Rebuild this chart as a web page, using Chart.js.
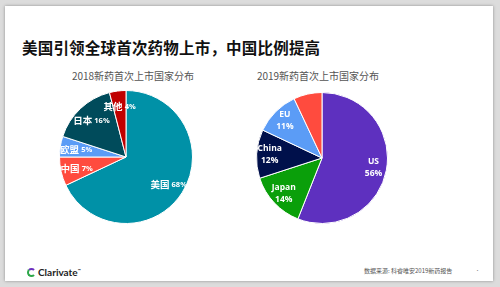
<!DOCTYPE html>
<html>
<head>
<meta charset="utf-8">
<script src="https://cdn.jsdelivr.net/npm/chart.js@4.4.0/dist/chart.umd.min.js"></script>
<style>
  html, body { margin: 0; padding: 0; }
  body { width: 500px; height: 287px; background: #dcdcdc; position: relative; overflow: hidden; font-family: "Noto Sans CJK SC", "Noto Sans", sans-serif; }
  #slide { position: absolute; left: 5px; top: 6px; width: 488px; height: 275px; background: #fff; box-shadow: 0 0 3px rgba(0,0,0,0.35); }
  .abs { position: absolute; }
  #main-title { left: 22px; top: 36px; font-size: 15.5px; font-weight: 700; color: #111; letter-spacing: 0.2px; white-space: nowrap; font-family: "Noto Sans CJK SC", serif; }
  .sub { font-size: 10px; color: #555; white-space: nowrap; transform: translateX(-50%); }
  #src { left: 364px; top: 266px; font-size: 6px; color: #555; white-space: nowrap; }
  #dot { left: 475px; top: 266px; font-size: 5px; color: #888; }
  #logo { left: 27px; top: 266px; font-family: "Lato", "Open Sans", sans-serif; font-weight: 700; font-size: 10px; color: #222; white-space: nowrap; }
  #logo i { display: inline-block; width: 5px; height: 5px; border: 2px solid #6b2fbf; border-left-color: #2ea84a; border-bottom-color: #2ea84a; border-right-color: transparent; border-radius: 50%; vertical-align: -1px; margin-right: 2px; }
</style>
</head>
<body>
<div id="slide"></div>
<div id="main-title" class="abs">美国引领全球首次药物上市，中国比例提高</div>
<div class="abs sub" style="left:133px; top:68px;">2018新药首次上市国家分布</div>
<div class="abs sub" style="left:318px; top:68px;">2019新药首次上市国家分布</div>
<div class="abs" style="left:59px; top:90px; width:134px; height:134px;"><canvas id="pie2018"></canvas></div>
<div class="abs" style="left:256px; top:92px; width:132px; height:132px;"><canvas id="pie2019"></canvas></div>
<div id="logo" class="abs"><i></i>Clarivate<sup style="font-size:4px">™</sup></div>
<div id="src" class="abs">数据来源: 科睿唯安2019新药报告</div>
<div id="dot" class="abs">•</div>

<script>
// 2018 - 顺时针从12点开始
const labels2018 = ['美国', '中国', '欧盟', '日本', '其他'];
const values2018 = [68, 7, 5, 16, 4];
const colors2018 = ['#0091a7', '#ff4b3e', '#5b9cf6', '#004b5b', '#c00000'];

// 2019
const labels2019 = ['US', 'Japan', 'China', 'EU', ''];
const values2019 = [56, 14, 12, 11, 7];
const colors2019 = ['#5e30bf', '#0a9f0a', '#00104b', '#5b9cf6', '#ff4b3e'];

// etiquetas dentro de cada porción
const sliceLabels = {
    id: 'sliceLabels',
    afterDatasetsDraw(chart, args, opts) {
        const { ctx } = chart;
        const meta = chart.getDatasetMeta(0);
        const ds = chart.data.datasets[0];
        ctx.save();
        ctx.fillStyle = '#fff';
        ctx.textBaseline = 'middle';
        meta.data.forEach((arc, i) => {
            const name = chart.data.labels[i];
            if (!name) return;
            const mid = (arc.startAngle + arc.endAngle) / 2;
            const r = arc.outerRadius * opts.factor;
            const x = arc.x + Math.cos(mid) * r;
            const y = arc.y + Math.sin(mid) * r;
            const pct = ds.data[i] + '%';
            if (opts.twoLines) {
                ctx.textAlign = 'center';
                ctx.font = 'bold 8.5px "Open Sans", sans-serif';
                ctx.fillText(name, x, y - 6);
                ctx.fillText(pct, x, y + 6);
            } else {
                ctx.font = 'bold 9.5px "Noto Sans CJK SC", sans-serif';
                const w1 = ctx.measureText(name + ' ').width;
                ctx.font = 'bold 7.5px "Open Sans", sans-serif';
                const w2 = ctx.measureText(pct).width;
                const x0 = x - (w1 + w2) / 2;
                ctx.textAlign = 'left';
                ctx.font = 'bold 9.5px "Noto Sans CJK SC", sans-serif';
                ctx.fillText(name, x0, y);
                ctx.font = 'bold 7.5px "Open Sans", sans-serif';
                ctx.fillText(pct, x0 + w1, y + 0.5);
            }
        });
        ctx.restore();
    }
};

function makePie(id, labels, values, colors, twoLines, factor) {
    return new Chart(document.getElementById(id), {
        type: 'pie',
        data: {
            labels: labels,
            datasets: [{
                data: values,
                backgroundColor: colors,
                borderColor: '#ffffff',
                borderWidth: 1
            }]
        },
        options: {
            responsive: true,
            maintainAspectRatio: false,
            animation: false,
            layout: { padding: 0 },
            plugins: {
                legend: { display: false },
                tooltip: { enabled: false },
                sliceLabels: { twoLines: twoLines, factor: factor }
            }
        },
        plugins: [sliceLabels]
    });
}

makePie('pie2018', labels2018, values2018, colors2018, false, 0.76);
makePie('pie2019', labels2019, values2019, colors2019, true, 0.8);
</script>
</body>
</html>
